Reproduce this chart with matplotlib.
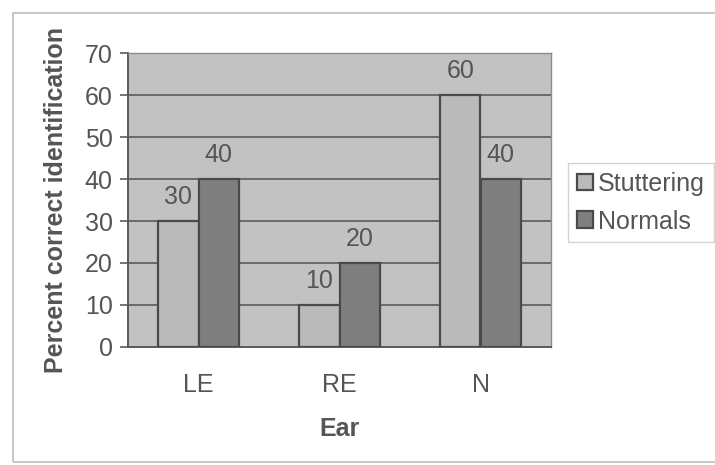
import matplotlib
matplotlib.use("Agg")
import matplotlib.pyplot as plt
import numpy as np

categories = ["LE", "RE", "N"]
stuttering = [30, 10, 60]
normals = [40, 20, 40]
series_names = ["Stuttering", "Normals"]
y_ticks = [0, 10, 20, 30, 40, 50, 60, 70]

plt.rcParams["font.family"] = ["Liberation Sans", "DejaVu Sans"]
text_col = "#555555"
edge_col = "#4a4a4a"
fs = 18

fig = plt.figure(figsize=(7.15, 4.65), dpi=100)
fig.patch.set_facecolor("white")

# chart-area border
border = plt.Rectangle((13 / 715, 1 - 462 / 465), 1.2, (462 - 13) / 465,
                       transform=fig.transFigure, fill=False,
                       edgecolor="#bdbdbd", linewidth=1.2)
fig.add_artist(border)

ax = fig.add_axes([128 / 715, 1 - 347 / 465, (551 - 128) / 715, (347 - 53) / 465])
ax.set_facecolor("#c2c2c2")

x = np.arange(len(categories))
w = 0.285
b1 = ax.bar(x - w / 2, stuttering, w, color="#bababa", edgecolor=edge_col,
            linewidth=1.6, label=series_names[0], zorder=3)
b2 = ax.bar(x + w / 2, normals, w, color="#7f7f7f", edgecolor=edge_col,
            linewidth=1.6, label=series_names[1], zorder=3)

for bars, vals in ((b1, stuttering), (b2, normals)):
    for r, v in zip(bars, vals):
        ax.annotate(f"{v}", (r.get_x() + r.get_width() / 2, v),
                    xytext=(0, 9), textcoords="offset points",
                    ha="center", va="bottom", fontsize=fs, color=text_col)

ax.set_xlim(-0.5, 2.5)
ax.set_ylim(0, 70)
ax.set_yticks(y_ticks)
ax.set_xticks(x)
ax.set_xticklabels(categories)
ax.yaxis.grid(True, color="#5a5a5a", linewidth=1.2, zorder=1)
ax.set_axisbelow(True)

for s in ("top", "right"):
    ax.spines[s].set_color("#8c8c8c")
    ax.spines[s].set_linewidth(1.0)
ax.spines["left"].set_color("#5a5a5a")
ax.spines["left"].set_linewidth(1.4)
ax.spines["bottom"].set_color("#5a5a5a")
ax.spines["bottom"].set_linewidth(1.4)

ax.tick_params(axis="y", length=6, width=1.2, color="#5a5a5a",
               labelsize=fs, labelcolor=text_col, pad=5)
ax.tick_params(axis="x", length=0, labelsize=fs, labelcolor=text_col, pad=19)

ax.set_xlabel("Ear", fontsize=fs, fontweight="bold", color=text_col, labelpad=14)
ax.set_ylabel("Percent correct identification", fontsize=fs,
              fontweight="bold", color=text_col, labelpad=12)

leg = fig.legend(handles=[b1, b2], labels=series_names,
                 loc="upper left", bbox_to_anchor=(568 / 715, 1 - 163 / 465),
                 fontsize=fs, frameon=True, fancybox=False,
                 handlelength=0.65, handleheight=0.65, handletextpad=0.2,
                 borderpad=0.35, labelspacing=0.55, borderaxespad=0)
leg.get_frame().set_edgecolor("#c8c8c8")
leg.get_frame().set_linewidth(1.0)
for t in leg.get_texts():
    t.set_color(text_col)

fig.savefig("out.png", dpi=100)
